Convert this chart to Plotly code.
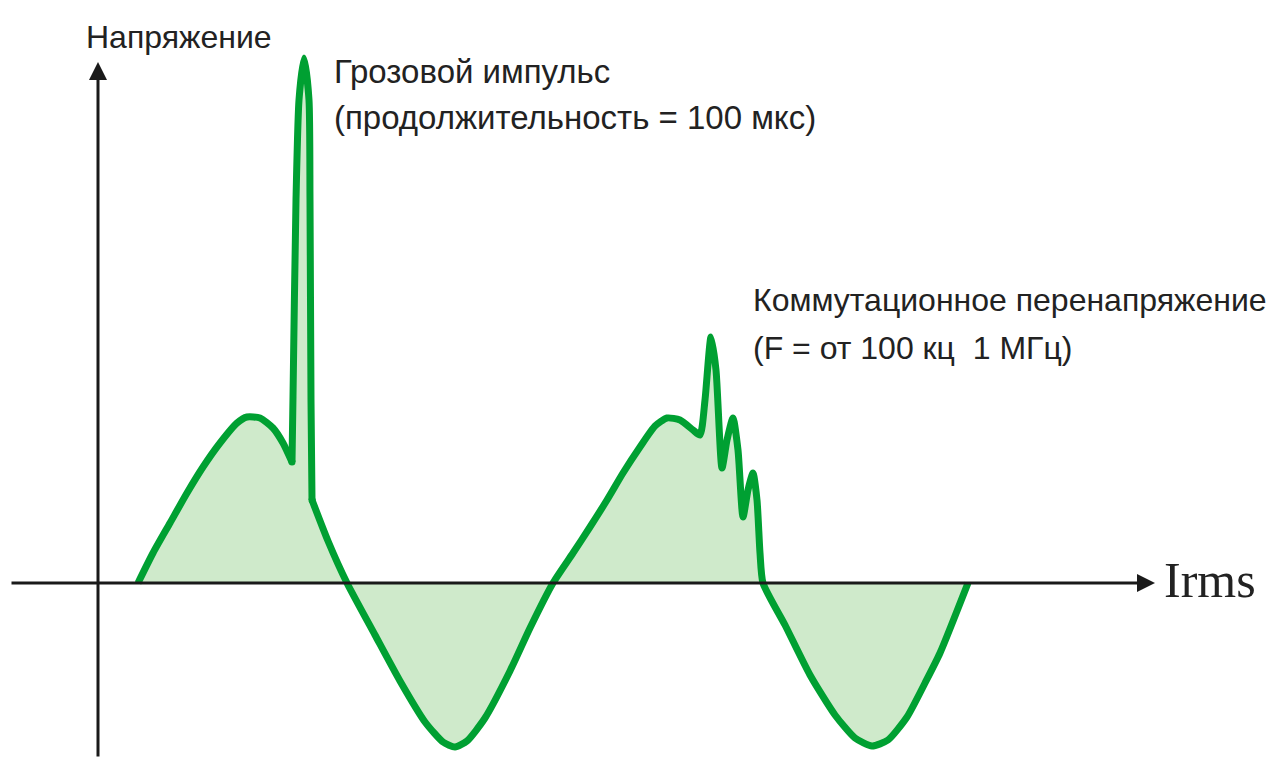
import plotly.graph_objects as go

# Waveform (time in px units, voltage in px above the zero line),
# split where the drawing has sharp corners.
hump1_t = [138, 153, 170, 187, 203, 220, 237, 247, 260, 273, 283, 292]
hump1_v = [0, 30, 60, 90, 116, 140, 160, 166, 165, 155, 140, 121]

spike1_t = [292, 293, 296, 299, 304, 309, 310, 311, 312]
spike1_v = [121, 186, 383, 483, 525, 483, 383, 183, 83]

rest_t = [312, 328, 347, 375, 400, 425, 443, 455, 467, 485, 510, 530, 553,
          573, 590, 607, 623, 640, 655, 667, 680, 693, 700,
          705, 711, 716, 722, 727, 733, 738, 743, 748, 753, 757, 760, 763,
          785, 810, 835, 855, 872, 888, 907, 925, 940, 968]
rest_v = [83, 42, 0, -52, -98, -139, -159, -164, -158, -135, -88, -45, 0,
          30, 56, 83, 110, 136, 157, 165, 163, 153, 148,
          183, 246, 213, 115, 143, 165, 133, 66, 93, 110, 83, 30, 0,
          -42, -92, -132, -155, -163, -157, -134, -100, -70, 0]

y_label = "Напряжение"
x_label = "Irms"
note1 = ["Грозовой импульс", "(продолжительность = 100 мкс)"]
note2 = ["Коммутационное перенапряжение", "(F = от 100 кц  1 МГц)"]

W, H = 1274, 758
X0, Y0 = 98, 583  # origin in pixel space
GREEN = "#00A032"

fig = go.Figure()
# fill under the whole waveform
fig.add_trace(go.Scatter(
    x=hump1_t + spike1_t[1:] + rest_t[1:], y=hump1_v + spike1_v[1:] + rest_v[1:],
    mode="lines", line=dict(width=0, color=GREEN),
    fill="tozeroy", fillcolor="#CFEACB", hoverinfo="skip"))
# the green stroke, one smooth piece between sharp corners
segments = [(hump1_t, hump1_v), (spike1_t, spike1_v), (rest_t, rest_v)]
for tt, vv in segments:
    fig.add_trace(go.Scatter(
        x=tt, y=vv, mode="lines",
        line=dict(color=GREEN, width=7, shape="spline", smoothing=0.6),
        hoverinfo="skip"))
# round joints at the corners
fig.add_trace(go.Scatter(
    x=[spike1_t[0], spike1_t[-1]], y=[spike1_v[0], spike1_v[-1]], mode="markers",
    marker=dict(color=GREEN, size=7, line=dict(width=0)), hoverinfo="skip"))

# axes as arrows
fig.add_annotation(x=X0, y=Y0 - 62, ax=X0, ay=Y0 - 758, xref="x", yref="y",
                   axref="x", ayref="y", showarrow=True, arrowhead=2,
                   arrowsize=1.2, arrowwidth=3, arrowcolor="#1a1a1a", text="")
fig.add_annotation(x=1155, y=0, ax=10, ay=0, xref="x", yref="y",
                   axref="x", ayref="y", showarrow=True, arrowhead=2,
                   arrowsize=1.2, arrowwidth=3, arrowcolor="#1a1a1a", text="")

sans = dict(family="Liberation Sans, Arial, sans-serif", size=32, color="#222222")
sans2 = dict(family="Liberation Sans, Arial, sans-serif", size=33, color="#222222")
fig.add_annotation(x=84, y=Y0 - 37, text=y_label, showarrow=False,
                   xanchor="left", yanchor="middle", font=sans)
fig.add_annotation(x=1162, y=Y0 - 580, text=x_label, showarrow=False,
                   xanchor="left", yanchor="middle",
                   font=dict(family="Liberation Serif, Times New Roman, serif", size=50, color="#222222"))
fig.add_annotation(x=332, y=Y0 - 71, text=note1[0], showarrow=False,
                   xanchor="left", yanchor="middle", font=sans2)
fig.add_annotation(x=332, y=Y0 - 117, text=note1[1], showarrow=False,
                   xanchor="left", yanchor="middle", font=sans2)
fig.add_annotation(x=751, y=Y0 - 300, text=note2[0], showarrow=False,
                   xanchor="left", yanchor="middle", font=sans)
fig.add_annotation(x=751, y=Y0 - 348, text=note2[1], showarrow=False,
                   xanchor="left", yanchor="middle", font=sans)

fig.update_xaxes(range=[0, W], visible=False)
fig.update_yaxes(range=[Y0 - H, Y0], visible=False)
fig.update_layout(width=W, height=H, margin=dict(l=0, r=0, t=0, b=0),
                  paper_bgcolor="white", plot_bgcolor="white", showlegend=False)
fig.write_html("out.html", config={"displayModeBar": False},
               post_script="document.body.style.margin='0';document.body.style.overflow='hidden';")
